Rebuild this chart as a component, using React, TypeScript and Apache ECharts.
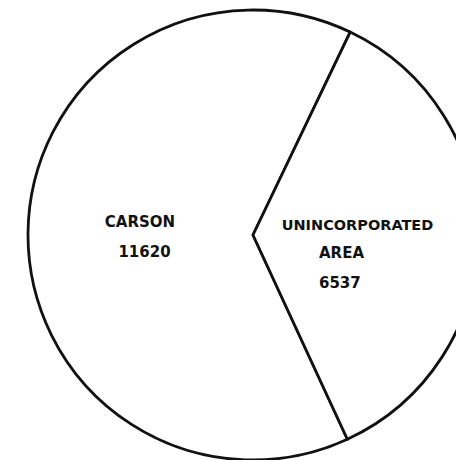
import { useEffect, useRef } from 'react';
import * as echarts from 'echarts';

const categories = ['CARSON', 'UNINCORPORATED AREA'];
const values = [11620, 6537];

export default function App() {
  const ref = useRef<HTMLDivElement>(null);
  useEffect(() => {
    const chart = echarts.init(ref.current!, null, { renderer: 'svg' });
    const txt = (text: string, x: number, y: number, align: string, size = 15) => ({
      type: 'text',
      x,
      y,
      z: 100,
      silent: true,
      style: {
        text,
        align,
        textAlign: align,
        verticalAlign: 'middle',
        textVerticalAlign: 'middle',
        fontFamily: 'DejaVu Sans',
        fontWeight: 'bold',
        fontSize: size,
        fill: '#111',
      },
    });
    const carsonWords = categories[0];
    const uninc = categories[1].split(' ');
    chart.setOption({
      animation: false,
      backgroundColor: '#ffffff',
      series: [
        {
          type: 'pie',
          center: [253, 235],
          radius: 225,
          startAngle: -65.2,
          clockwise: true,
          silent: true,
          z: 1,
          label: { show: false },
          labelLine: { show: false },
          emphasis: { disabled: true },
          itemStyle: { color: '#ffffff', borderColor: '#111111', borderWidth: 2.8 },
          data: categories.map((name, i) => ({ name, value: values[i] })),
        },
      ],
      graphic: {
        elements: [
          txt(carsonWords, 140, 222, 'center'),
          txt(String(values[0]), 144.5, 251.5, 'center'),
          txt(uninc[0], 357.5, 224.5, 'center', 14.5),
          txt(uninc[1], 319, 252.5, 'left'),
          txt(String(values[1]), 319, 282.5, 'left'),
        ],
      },
    });
    return () => chart.dispose();
  }, []);
  return (
    <div
      ref={ref}
      style={{ position: 'absolute', left: 0, top: 0, width: 456, height: 460 }}
    />
  );
}
